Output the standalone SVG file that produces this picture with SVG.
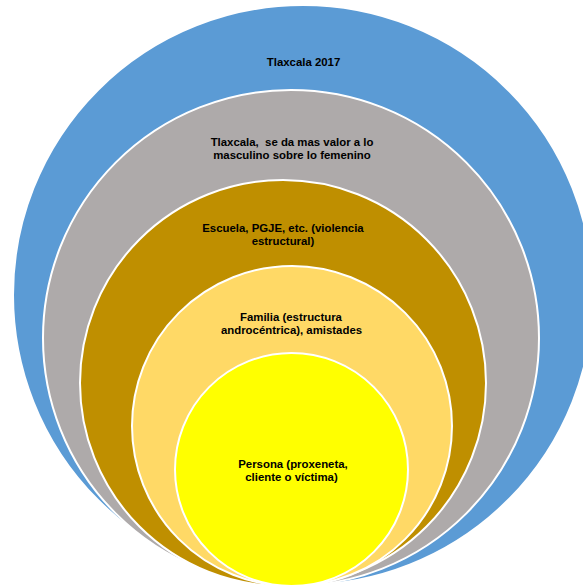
<svg xmlns="http://www.w3.org/2000/svg" width="583" height="586" viewBox="0 0 583 586">
<style>
.ring{stroke:#FFFFFF;stroke-width:2}
.lbl{font-family:"Liberation Sans",Arial,sans-serif;font-weight:bold;font-size:11.4px;fill:#000000;text-anchor:middle}
</style>
<rect x="0" y="0" width="583" height="586" fill="#FFFFFF"/>
<g id="tlaxcala2017">
<circle class="ring" cx="303" cy="295" r="290" fill="#5B9BD5" stroke="none"/>
<text class="lbl" x="303.5" y="66">Tlaxcala 2017</text>
</g>
<g id="valores">
<circle class="ring" cx="291" cy="338" r="248" fill="#AEAAAA"/>
<text class="lbl" x="292" y="146" xml:space="preserve">Tlaxcala,  se da mas valor a lo</text>
<text class="lbl" x="292" y="159">masculino sobre lo femenino</text>
</g>
<g id="escuela">
<circle class="ring" cx="283" cy="383" r="203" fill="#BF8F00"/>
<text class="lbl" x="283" y="232">Escuela, PGJE, etc. (violencia</text>
<text class="lbl" x="283" y="245">estructural)</text>
</g>
<g id="familia">
<circle class="ring" cx="292" cy="426" r="160" fill="#FFD966"/>
<text class="lbl" x="291" y="321">Familia (estructura</text>
<text class="lbl" x="291.5" y="334">androcéntrica), amistades</text>
</g>
<g id="persona">
<circle class="ring" cx="291.5" cy="469.5" r="116.5" fill="#FFFF00"/>
<text class="lbl" x="293" y="468">Persona (proxeneta,</text>
<text class="lbl" x="291.5" y="481">cliente o víctima)</text>
</g>
<g id="connectors"/>
</svg>
